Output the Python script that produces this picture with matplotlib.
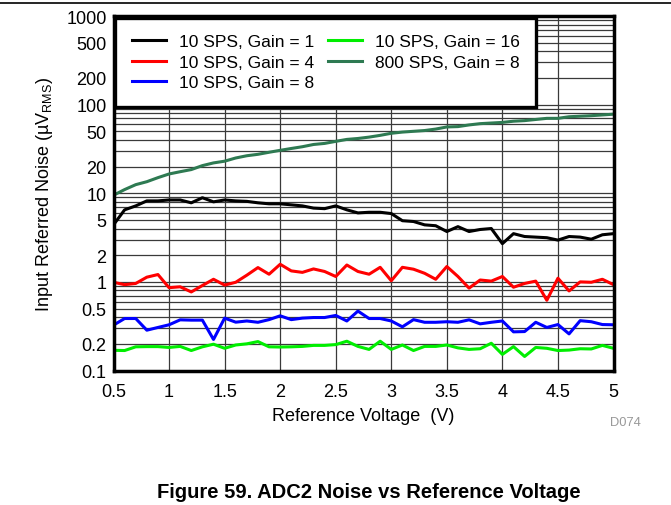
import numpy as np
import matplotlib
matplotlib.use("Agg")
import matplotlib.pyplot as plt
from matplotlib.ticker import FixedLocator, NullFormatter

plt.rcParams['font.family'] = ['Liberation Sans', 'DejaVu Sans']

# reference voltage (V), 0.5 .. 5.0 in 0.1 steps
vref = [0.5, 0.6, 0.7, 0.8, 0.9, 1.0, 1.1, 1.2, 1.3, 1.4,
        1.5, 1.6, 1.7, 1.8, 1.9, 2.0, 2.1, 2.2, 2.3, 2.4,
        2.5, 2.6, 2.7, 2.8, 2.9, 3.0, 3.1, 3.2, 3.3, 3.4,
        3.5, 3.6, 3.7, 3.8, 3.9, 4.0, 4.1, 4.2, 4.3, 4.4,
        4.5, 4.6, 4.7, 4.8, 4.9, 5.0]

sps10_gain1 = [4.4, 6.5, 7.2, 8.2, 8.2, 8.4, 8.4, 7.8, 8.9, 8.0,
               8.4, 8.2, 8.1, 7.8, 7.6, 7.6, 7.4, 7.2, 6.8, 6.7,
               7.2, 6.5, 6.0, 6.1, 6.1, 5.9, 4.9, 4.8, 4.4, 4.3,
               3.7, 4.2, 3.7, 3.9, 4.0, 2.7, 3.5, 3.25, 3.2, 3.15,
               2.96, 3.25, 3.2, 3.03, 3.4, 3.5]

sps10_gain4 = [0.99, 0.93, 0.96, 1.13, 1.21, 0.86, 0.88, 0.77, 0.91, 1.07,
               0.92, 0.99, 1.19, 1.45, 1.22, 1.58, 1.33, 1.28, 1.40, 1.31,
               1.15, 1.55, 1.31, 1.22, 1.46, 1.03, 1.46, 1.39, 1.25, 1.07,
               1.49, 1.15, 0.85, 1.05, 1.02, 1.15, 0.87, 0.96, 1.02, 0.62,
               1.10, 0.79, 1.0, 0.99, 1.07, 0.93]

sps10_gain8 = [0.325, 0.386, 0.386, 0.285, 0.306, 0.328, 0.373, 0.37, 0.37, 0.224,
               0.39, 0.351, 0.362, 0.35, 0.375, 0.414, 0.375, 0.39, 0.396, 0.396,
               0.418, 0.362, 0.468, 0.386, 0.386, 0.362, 0.311, 0.375, 0.35, 0.35,
               0.355, 0.35, 0.373, 0.336, 0.35, 0.362, 0.273, 0.275, 0.35, 0.306,
               0.33, 0.259, 0.365, 0.355, 0.33, 0.328]

sps10_gain16 = [0.169, 0.168, 0.185, 0.186, 0.186, 0.182, 0.187, 0.168, 0.185, 0.198,
                0.178, 0.194, 0.2, 0.212, 0.185, 0.184, 0.185, 0.187, 0.192, 0.192,
                0.196, 0.214, 0.187, 0.173, 0.214, 0.173, 0.194, 0.168, 0.187, 0.187,
                0.194, 0.18, 0.173, 0.176, 0.203, 0.152, 0.186, 0.144, 0.182, 0.178,
                0.168, 0.17, 0.176, 0.175, 0.192, 0.178]

sps800_gain8 = [9.5, 11, 12.5, 13.5, 15, 16.5, 17.5, 18.5, 20.5, 22,
                23, 25, 26.5, 27.5, 29, 30.5, 32, 33.5, 35.5, 36.5,
                38.5, 40.5, 41.5, 43, 45, 47.5, 49, 50, 51, 53,
                56, 56.5, 59, 61, 62, 63, 65, 66, 68, 70,
                70, 73, 74, 75, 76.5, 78]

x_ticks = [0.5, 1, 1.5, 2, 2.5, 3, 3.5, 4, 4.5, 5]
x_labels = ["0.5", "1", "1.5", "2", "2.5", "3", "3.5", "4", "4.5", "5"]
y_ticks = [0.1, 0.2, 0.5, 1, 2, 5, 10, 20, 50, 100, 200, 500, 1000]
y_labels = ["0.1", "0.2", "0.5", "1", "2", "5", "10", "20", "50", "100", "200", "500", "1000"]

fig = plt.figure(figsize=(6.71, 5.06), dpi=100)
ax = fig.add_axes([113.5 / 671, 1 - 371.5 / 506, 500 / 671, 354.5 / 506])

ax.set_yscale('log')
ax.set_xlim(0.5, 5)
ax.set_ylim(0.1, 1000)

# grid
ax.set_xticks(x_ticks)
ax.set_xticklabels(x_labels, fontsize=13)
ax.yaxis.set_major_locator(FixedLocator(y_ticks))
ax.set_yticklabels(y_labels, fontsize=13)
minors = [m * 10.0 ** e for e in range(-1, 3) for m in range(2, 10) if m not in (2, 5)]
ax.yaxis.set_minor_locator(FixedLocator(minors))
ax.yaxis.set_minor_formatter(NullFormatter())
ax.grid(True, which='both', color='#3a3a3a', linewidth=0.9)
ax.tick_params(which='both', length=0)
ax.tick_params(axis='x', pad=9)
ax.tick_params(axis='y', pad=5)

lw = 2.2
ax.plot(vref, sps10_gain1, color='black', lw=lw, label='10 SPS, Gain = 1')
ax.plot(vref, sps10_gain4, color='#ff0000', lw=lw, label='10 SPS, Gain = 4')
ax.plot(vref, sps10_gain8, color='#0000ff', lw=lw, label='10 SPS, Gain = 8')
ax.plot(vref, sps10_gain16, color='#00ee00', lw=lw, label='10 SPS, Gain = 16')
ax.plot(vref, sps800_gain8, color='#2e7a52', lw=lw, label='800 SPS, Gain = 8')

for s in ax.spines.values():
    s.set_linewidth(2.5)

leg = ax.legend(loc='upper left', ncol=2, fontsize=12.5, frameon=True, fancybox=False,
                borderaxespad=0.1, handlelength=2.0, handletextpad=0.7, columnspacing=0.8,
                labelspacing=0.3, borderpad=0.95, framealpha=1)
leg.get_frame().set_edgecolor('black')
leg.get_frame().set_linewidth(2.4)

ax.set_xlabel('Reference Voltage  (V)', fontsize=13, labelpad=5)
ax.set_ylabel('Input Referred Noise (µV$_{\\mathregular{RMS}}$)', fontsize=13, labelpad=8)

fig.text(625 / 671, 1 - 423 / 506, 'D074', fontsize=9.3, color='#999999', ha='center', va='center')
fig.text(369 / 671, 1 - 493 / 506, 'Figure 59. ADC2 Noise vs Reference Voltage',
         fontsize=14.5, fontweight='bold', ha='center', va='center')
fig.add_artist(plt.Line2D([0, 1], [1 - 4 / 506, 1 - 4 / 506], color='black', lw=1.2))

fig.savefig('out.png', dpi=100)
